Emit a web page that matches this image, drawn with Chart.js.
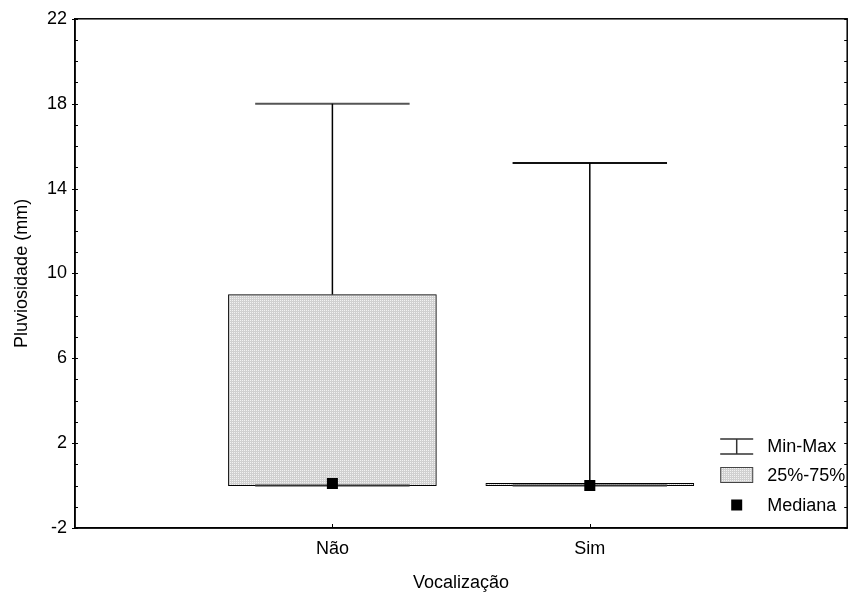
<!DOCTYPE html>
<html>
<head>
<meta charset="utf-8">
<script src="https://cdn.jsdelivr.net/npm/chart.js@4"></script>
<style>
  html, body { margin: 0; padding: 0; background: #fff; }
  #wrap { width: 855px; height: 594px; }
</style>
</head>
<body>
<div id="wrap"><canvas id="boxChart"></canvas></div>
<script>
// values
const categories = ["Não", "Sim"];
const minVals = [0, 0];
const q1Vals = [0, 0];
const medianVals = [0.1, 0];
const q3Vals = [9, 0.1];
const maxVals = [18, 15.2];

const yMin = -2;
const yMax = 22;
const yLabelStep = 4;

const legendLabels = ["Min-Max", "25%-75%", "Mediana"];
const xTitle = "Vocalização";
const yTitle = "Pluviosidade (mm)";

const capHalf = 0.3; // in category units
const FONT = "'Liberation Sans', Arial, sans-serif";
const FSIZE = 18;

// dotted grey fill like the original
const pat = document.createElement("canvas");
pat.width = 2;
pat.height = 2;
const pctx = pat.getContext("2d");
pctx.fillStyle = "#d0d0d0";
pctx.fillRect(0, 0, 2, 2);
pctx.fillStyle = "#f2f2f2";
pctx.fillRect(0, 0, 1, 1);
const boxFill = pctx.createPattern(pat, "repeat");

const datasets = [];

// boxes (25%-75%)
datasets.push({
  type: "bar",
  data: categories.map((c, i) => ({ x: i + 1, y: [q1Vals[i], q3Vals[i]] })),
  backgroundColor: boxFill,
  borderColor: "#000",
  borderWidth: 1,
  borderSkipped: false,
  barThickness: 208,
  order: 3,
});

categories.forEach((c, i) => {
  const cx = i + 1;
  // whisker
  datasets.push({
    type: "line",
    data: [{ x: cx, y: q3Vals[i] }, { x: cx, y: maxVals[i] }],
    borderColor: "#000",
    borderWidth: 1.5,
    pointRadius: 0,
    order: 2,
  });
  // max cap
  datasets.push({
    type: "line",
    data: [{ x: cx - capHalf, y: maxVals[i] }, { x: cx + capHalf, y: maxVals[i] }],
    borderColor: i === 0 ? "#555" : "#111",
    borderWidth: 2,
    pointRadius: 0,
    order: 2,
  });
  // min cap
  datasets.push({
    type: "line",
    data: [{ x: cx - capHalf, y: minVals[i] }, { x: cx + capHalf, y: minVals[i] }],
    borderColor: "#333",
    borderWidth: 2,
    pointRadius: 0,
    order: 2,
  });
});

// medians
datasets.push({
  type: "scatter",
  data: categories.map((c, i) => ({ x: i + 1, y: medianVals[i] })),
  pointStyle: "rect",
  pointRadius: 7.8,
  pointHoverRadius: 7.8,
  backgroundColor: "#000",
  borderColor: "#000",
  borderWidth: 0,
  order: 0,
});

const frameAndLegend = {
  id: "frameAndLegend",
  afterDraw(chart) {
    const { ctx, chartArea: a } = chart;
    const ys = chart.scales.y;
    const xs = chart.scales.x;
    ctx.save();
    ctx.strokeStyle = "#000";
    ctx.lineWidth = 1.5;
    ctx.strokeRect(a.left, a.top, a.right - a.left, a.bottom - a.top);

    // inner ticks
    ctx.lineWidth = 1;
    ys.ticks.forEach((t) => {
      const y = Math.round(ys.getPixelForValue(t.value)) + 0.5;
      const major = (t.value - yMin) % yLabelStep === 0;
      ctx.beginPath();
      ctx.moveTo(a.left - (major ? 3 : 0), y);
      ctx.lineTo(a.left + 3, y);
      ctx.moveTo(a.right - 3, y);
      ctx.lineTo(a.right, y);
      ctx.stroke();
    });
    categories.forEach((c, i) => {
      const x = Math.round(xs.getPixelForValue(i + 1)) + 0.5;
      ctx.beginPath();
      ctx.moveTo(x, a.bottom);
      ctx.lineTo(x, a.bottom - 4);
      ctx.stroke();
    });

    // legend
    const ix = a.right - 127;
    const iw = 33;
    const tx = a.right - 80;
    const rows = [a.bottom - 82, a.bottom - 53, a.bottom - 23];
    ctx.font = FSIZE + "px " + FONT;
    ctx.fillStyle = "#000";
    ctx.textBaseline = "middle";
    ctx.textAlign = "left";

    // Min-Max icon
    ctx.strokeStyle = "#333";
    ctx.lineWidth = 1.5;
    ctx.beginPath();
    ctx.moveTo(ix, rows[0] - 7);
    ctx.lineTo(ix + iw, rows[0] - 7);
    ctx.moveTo(ix, rows[0] + 8);
    ctx.lineTo(ix + iw, rows[0] + 8);
    ctx.moveTo(ix + iw / 2, rows[0] - 7);
    ctx.lineTo(ix + iw / 2, rows[0] + 8);
    ctx.stroke();

    // box icon
    ctx.fillStyle = boxFill;
    ctx.fillRect(ix, rows[1] - 7.5, iw, 15);
    ctx.strokeStyle = "#444";
    ctx.lineWidth = 1;
    ctx.strokeRect(ix + 0.5, rows[1] - 7.5, iw - 1, 15);

    // median icon
    ctx.fillStyle = "#000";
    ctx.fillRect(ix + iw / 2 - 5.5, rows[2] - 5.5, 11, 11);

    legendLabels.forEach((l, i) => ctx.fillText(l, tx, rows[i] + 1));
    ctx.restore();
  },
};

new Chart(document.getElementById("boxChart"), {
  type: "bar",
  data: { datasets: datasets },
  options: {
    responsive: true,
    maintainAspectRatio: false,
    animation: false,
    layout: { padding: { top: 18, right: 2, left: 0, bottom: 0 } },
    plugins: {
      legend: { display: false },
      tooltip: { enabled: false },
    },
    scales: {
      x: {
        type: "linear",
        min: 0,
        max: categories.length + 1,
        offset: false,
        grid: { display: false, drawTicks: false },
        border: { display: true, color: "#000", width: 1.5 },
        ticks: {
          stepSize: 1,
          padding: 10,
          color: "#000",
          font: { family: FONT, size: FSIZE },
          callback: (v) => categories[v - 1] || "",
        },
        title: {
          display: true,
          text: xTitle,
          color: "#000",
          font: { family: FONT, size: FSIZE },
          padding: { top: 0, bottom: 0 },
        },
        afterFit: (s) => {
          s.height = 66;
          s.paddingLeft = 0;
          s.paddingRight = 0;
        },
      },
      y: {
        min: yMin,
        max: yMax,
        grid: { display: false, drawTicks: false },
        border: { display: true, color: "#000", width: 1.5 },
        ticks: {
          stepSize: 1,
          autoSkip: false,
          padding: 8,
          color: "#000",
          font: { family: FONT, size: FSIZE },
          callback: (v) => ((v - yMin) % yLabelStep === 0 ? String(v) : ""),
        },
        title: {
          display: true,
          text: yTitle,
          color: "#000",
          font: { family: FONT, size: FSIZE },
          padding: { top: 11, bottom: 0 },
        },
        afterFit: (s) => { s.width = 75; },
      },
    },
  },
  plugins: [frameAndLegend],
});
</script>
</body>
</html>
